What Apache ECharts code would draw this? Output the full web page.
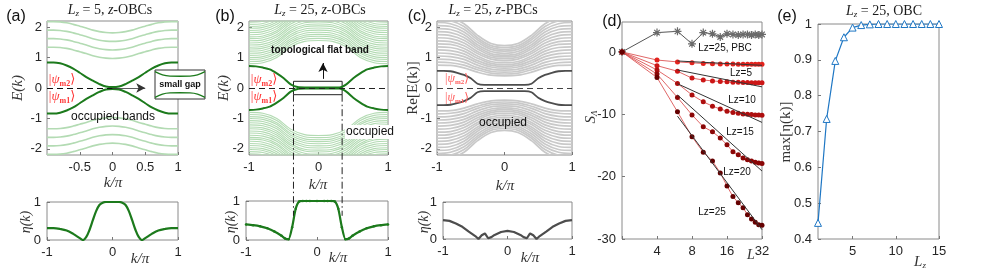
<!DOCTYPE html>
<html><head><meta charset="utf-8">
<script src="https://cdn.jsdelivr.net/npm/echarts@6/dist/echarts.min.js"></script>
<style>html,body{margin:0;padding:0;background:#fff}#c{width:981px;height:273px}</style>
</head><body><div id="c"></div>
<script>
// ---------------- DATA ----------------
const kFull = [-1,-0.9,-0.8,-0.7,-0.6,-0.5,-0.4,-0.3,-0.2,-0.1,0,0.1,0.2,0.3,0.4,0.5,0.6,0.7,0.8,0.9,1];
const kHalf = [0,0.1,0.2,0.3,0.4,0.5,0.6,0.7,0.8,0.9,1];
const kHalf6 = [0,0.2,0.4,0.6,0.8,1];
// (a) Lz=5 OBC
const aEdgeBand = [0.84,0.84,0.81,0.74,0.64,0.5,0.36,0.24,0.13,0.05,0.03,0.05,0.13,0.24,0.36,0.5,0.64,0.74,0.81,0.84,0.84];
const aBulk1 = [0.97,0.98,1.01,1.06,1.13,1.19,1.25,1.30,1.33,1.34,1.34];
const aBulk2 = [1.25,1.26,1.29,1.34,1.41,1.47,1.53,1.58,1.61,1.62,1.62];
const aBulk3 = [1.53,1.54,1.57,1.62,1.69,1.75,1.81,1.86,1.89,1.90,1.90];
const aBulk4 = [1.81,1.82,1.85,1.90,1.97,2.03,2.09,2.14,2.17,2.18,2.18];
// (b) Lz=25 OBC
const bEdgeBand = [0.72,0.71,0.67,0.61,0.48,0.32,0.12,0.03,0.02,0.02,0.02,0.02,0.02,0.02,0.12,0.32,0.48,0.61,0.67,0.71,0.72];
const bBulk = [
 [1.56,1.53,1.35,1.00,0.83,0.80],[1.63,1.60,1.42,1.07,0.90,0.87],[1.70,1.67,1.49,1.14,0.97,0.94],
 [1.76,1.73,1.55,1.20,1.03,1.00],[1.83,1.80,1.62,1.27,1.10,1.07],[1.90,1.87,1.69,1.34,1.17,1.14],
 [1.97,1.94,1.76,1.41,1.24,1.21],[2.04,2.01,1.83,1.48,1.31,1.28],[2.10,2.07,1.89,1.54,1.37,1.34],
 [2.17,2.14,1.96,1.61,1.44,1.41],[2.24,2.21,2.03,1.68,1.51,1.48],[2.31,2.28,2.10,1.75,1.58,1.55],
 [2.38,2.35,2.17,1.82,1.65,1.62],[2.44,2.41,2.23,1.88,1.71,1.68],[2.51,2.48,2.30,1.95,1.78,1.75],
 [2.58,2.55,2.37,2.02,1.85,1.82],[2.65,2.62,2.44,2.09,1.92,1.89],[2.72,2.69,2.51,2.16,1.99,1.96],
 [2.78,2.75,2.57,2.22,2.05,2.02],[2.85,2.82,2.64,2.29,2.12,2.09],[2.92,2.89,2.71,2.36,2.19,2.16]
];
// (c) Lz=25 PBC
const cEdgeBand = [0.56,0.56,0.55,0.5,0.43,0.32,0.14,0.1,0.1,0.1,0.1,0.1,0.1,0.1,0.14,0.32,0.43,0.5,0.55,0.56,0.56];
const cBulk = [
 [0.40,0.42,0.52,0.66,0.74,0.75],[0.46,0.49,0.60,0.75,0.83,0.85],[0.52,0.55,0.67,0.84,0.93,0.95],
 [0.59,0.62,0.75,0.94,1.03,1.05],[0.65,0.69,0.83,1.03,1.13,1.15],[0.71,0.75,0.90,1.12,1.23,1.25],
 [0.77,0.81,0.98,1.21,1.33,1.35],[0.83,0.87,1.05,1.30,1.43,1.45],[0.90,0.95,1.13,1.39,1.52,1.55],
 [0.96,1.01,1.20,1.48,1.62,1.65],[1.02,1.07,1.28,1.57,1.72,1.75],[1.08,1.13,1.35,1.66,1.82,1.85],
 [1.14,1.20,1.42,1.75,1.92,1.95],[1.21,1.27,1.50,1.84,2.02,2.05],[1.27,1.33,1.58,1.93,2.11,2.15],
 [1.33,1.39,1.65,2.02,2.21,2.25],[1.39,1.46,1.73,2.11,2.31,2.35]
];
// eta(k)
const kEta = [-1,-0.9,-0.8,-0.7,-0.6,-0.5,-0.45,-0.4,-0.35,-0.3,-0.25,-0.2,-0.15,-0.1,0,0.1,0.15,0.2,0.25,0.3,0.35,0.4,0.45,0.5,0.6,0.7,0.8,0.9,1];
const etaA = [0.31,0.31,0.29,0.25,0.16,0.05,0.0,0.08,0.27,0.52,0.76,0.92,0.98,1.0,1.0,1.0,0.98,0.92,0.76,0.52,0.27,0.08,0.0,0.05,0.16,0.25,0.29,0.31,0.31];
const etaB = [0.40,0.38,0.35,0.30,0.22,0.11,0.04,0.02,0.33,0.80,0.99,1.0,1.0,1.0,1.0,1.0,1.0,1.0,0.99,0.80,0.33,0.02,0.04,0.11,0.22,0.30,0.35,0.38,0.40];
const etaC = [0.51,0.49,0.42,0.33,0.20,0.08,0.0,0.10,0.15,0.02,0.05,0.11,0.15,0.19,0.22,0.19,0.15,0.11,0.05,0.02,0.15,0.10,0.0,0.08,0.20,0.33,0.42,0.49,0.51];
// inset "small gap"
const insetK = [-1,-0.7,-0.4,0,0.4,0.7,1];
const insetUpper = [0.88,0.66,0.58,0.57,0.58,0.66,0.88];
// (d) entanglement
const Lsizes = [2,4,6,8,10,12,14,16,18,20,22,24,26,28,30,32];
const sPBC25 = [0,3.1,3.3,1.3,3.1,2.9,2.4,2.9,2.8,2.7,2.8,2.8,2.7,2.8,2.7,2.8];
const sOBC5  = [0,-1.3,-1.6,-1.75,-1.85,-1.9,-1.92,-1.94,-1.95,-1.96,-1.97,-1.97,-1.98,-1.98,-1.98,-1.98];
const sOBC10 = [0,-2.2,-3.1,-4.2,-4.5,-4.65,-4.75,-4.8,-4.85,-4.88,-4.9,-4.92,-4.93,-4.94,-4.95,-4.95];
const sOBC15 = [0,-2.9,-5.05,-6.9,-8.0,-8.7,-9.15,-9.5,-9.7,-9.85,-9.95,-10.0,-10.05,-10.1,-10.1,-10.15];
const sOBC20 = [0,-3.55,-7.3,-10.1,-12.0,-12.8,-13.8,-14.9,-16.0,-16.5,-17.0,-17.3,-17.5,-17.7,-17.8,-17.9];
const sOBC25 = [0,-4.1,-9.6,-13.6,-16.1,-17.5,-19.4,-21.5,-23.2,-24.2,-25.0,-26.1,-26.8,-27.3,-27.7,-27.8];
const fitL = [6,32];
const fit5 = [-1.45,-2.15], fit10 = [-2.9,-5.6], fit15 = [-5.1,-11.3], fit20 = [-6.9,-19.1], fit25 = [-10.3,-28.5];
// (e)
const LzList = [1,2,3,4,5,6,7,8,9,10,11,12,13,14,15];
const maxEta = [0.445,0.735,0.897,0.963,0.99,0.997,0.999,1,1,1,1,1,1,1,1];
// tick labels
const ticksKa = [-0.5,0,0.5,1], ticksK = [-1,0,1], ticksE = [-2,-1,0,1,2], ticksEta = [0,1];
const ticksS = [-30,-20,-10,0], ticksLz = [5,10,15], ticksMax = [0.4,0.5,0.6,0.7,0.8,0.9,1];

// ---------------- CHART ----------------
const FONT = "'Liberation Sans', Arial, sans-serif";
const SERIF = "'Liberation Serif', 'DejaVu Serif', serif";
const chart = echarts.init(document.getElementById('c'), null, {renderer:'canvas', width:981, height:273});

const grids = [
 {left:47,top:21,width:131,height:134},
 {left:47,top:202,width:131,height:38},
 {left:249,top:21,width:139,height:134},
 {left:246,top:201,width:142,height:39},
 {left:437,top:21,width:135,height:134},
 {left:443,top:202,width:129,height:37},
 {left:622,top:22,width:140,height:217},
 {left:818,top:24,width:121,height:215},
 {left:155,top:70,width:50,height:29}
].map((g,i)=>Object.assign({show:true, borderColor: i===8?'#333':'#8a8a8a', borderWidth:1, backgroundColor: i===8?'#fff':'transparent'}, g));

const LBL = {color:'#262626', fontSize:13, fontFamily:FONT, margin:6};
function axis(i, min, max, ticks, extra) {
  return Object.assign({type:'value', gridIndex:i, min, max,
    axisLine:{show:false, onZero:false}, splitLine:{show:false},
    axisTick:{show:true, inside:true, length:3, lineStyle:{color:'#777'}, customValues:ticks},
    axisLabel:Object.assign({show:true, customValues:ticks}, LBL)}, extra||{});
}
const xAxes = [
 axis(0,-1,1,ticksKa), axis(1,-1,1,ticksK), axis(2,-1,1,ticksK), axis(3,-1,1,ticksK),
 axis(4,-1,1,ticksK), axis(5,-1,1,ticksK),
 {type:'log', logBase:2, gridIndex:6, min:2, max:32, axisLine:{show:false, onZero:false}, splitLine:{show:false},
  axisTick:{inside:true,length:3,lineStyle:{color:'#777'}},
  axisLabel:Object.assign({}, LBL, {formatter:v=>{const r=Math.round(v);return r===2?'':String(r);}})},
 axis(7,1,15,ticksLz),
 {type:'value', gridIndex:8, min:-1, max:1, show:false}
];
const yAxes = [
 axis(0,-2.2,2.2,ticksE), axis(1,0,1,ticksEta), axis(2,-2.2,2.2,ticksE), axis(3,0,1,ticksEta),
 axis(4,-2.2,2.2,ticksE), axis(5,0,1,ticksEta),
 axis(6,-30,4.8,ticksS), axis(7,0.4,1,ticksMax),
 {type:'value', gridIndex:8, min:-1, max:1, show:false}
];
[0,2,4].forEach(i => { yAxes[i].axisLabel.margin = 5; });

function mirror(ks, vs, sign) {
  const out = [];
  for (let i = ks.length-1; i > 0; i--) out.push([-ks[i], sign*vs[i]]);
  for (let i = 0; i < ks.length; i++) out.push([ks[i], sign*vs[i]]);
  return out;
}
function pairs(ks, vs, sign) { return ks.map((k,i)=>[k, (sign||1)*vs[i]]); }
function line(g, data, color, width, extra) {
  return Object.assign({type:'line', xAxisIndex:g, yAxisIndex:g, data, showSymbol:false, symbol:'none',
    label:{show:false}, emphasis:{disabled:true},
    smooth:0.35, silent:true, lineStyle:{color, width}, itemStyle:{color}, z:2}, extra||{});
}
const series = [];
const LG = '#b3dbb3', DG = '#1c7a1c', LGR = '#c9c9c9', DGR = '#4d4d4d';
// (a)
[aBulk1,aBulk2,aBulk3,aBulk4].forEach(b => { series.push(line(0, mirror(kHalf,b,1), LG, 1.6)); series.push(line(0, mirror(kHalf,b,-1), LG, 1.6)); });
series.push(line(0, pairs(kFull,aEdgeBand,1), DG, 2));
series.push(line(0, pairs(kFull,aEdgeBand,-1), DG, 2, {
  markLine:{silent:true, symbol:['none','none'], label:{show:false}, animation:false, data:[
    [{coord:[-1,0], lineStyle:{type:[6,4], color:'#111', width:1.1}}, {coord:[0,0]}],
    [{coord:[0,0], lineStyle:{type:'solid', color:'#333', width:0.8}}, {coord:[0.5,0], symbol:'arrow', symbolSize:[7,9]}]
  ]}}));
series.push(line(1, pairs(kEta,etaA), DG, 2.2));
// (b)
bBulk.forEach(b => { series.push(line(2, mirror(kHalf6,b,1), LG, 1.1)); series.push(line(2, mirror(kHalf6,b,-1), LG, 1.1)); });
series.push(line(2, pairs(kFull,bEdgeBand,1), DG, 2, {smooth:0.25}));
series.push(line(2, pairs(kFull,bEdgeBand,-1), DG, 2, {smooth:0.25,
  markLine:{silent:true, symbol:['none','none'], label:{show:false}, animation:false, data:[
    [{coord:[-1,0], lineStyle:{type:[6,4], color:'#222', width:1.1}}, {coord:[1,0]}],
    [{coord:[0.065,0.3], lineStyle:{type:'solid', color:'#111', width:1}}, {coord:[0.065,0.82], symbol:'arrow', symbolSize:[7,9]}]
  ]},
  markArea:{silent:true, label:{show:false}, itemStyle:{color:'rgba(0,0,0,0)', borderColor:'#222', borderWidth:1}, data:[[{coord:[-0.36,0.22]},{coord:[0.34,-0.22]}]]}
}));
series.push(line(3, pairs(kEta,etaB), DG, 2.2, {smooth:0.2, showSymbol:true, symbol:'circle', symbolSize:2.5}));
// (c)
cBulk.forEach(b => { series.push(line(4, mirror(kHalf6,b,1), LGR, 1.7)); series.push(line(4, mirror(kHalf6,b,-1), LGR, 1.7)); });
series.push(line(4, pairs(kFull,cEdgeBand,1), DGR, 1.8, {smooth:0.25}));
series.push(line(4, pairs(kFull,cEdgeBand,-1), DGR, 1.8, {smooth:0.25,
  markLine:{silent:true, symbol:['none','none'], label:{show:false}, animation:false, data:[
    [{coord:[-1,0], lineStyle:{type:[6,4], color:'#444', width:1.1}}, {coord:[1,0]}]]}}));
series.push(line(5, pairs(kEta,etaC), DGR, 2.2, {smooth:0}));
// inset
series.push(line(8, pairs(insetK,insetUpper,1), DG, 1.4, {z:5}));
series.push(line(8, pairs(insetK,insetUpper,-1), DG, 1.4, {z:5}));
// (d)
const star = 'path://M0,-1L0,1M-1,0L1,0M-0.7,-0.7L0.7,0.7M-0.7,0.7L0.7,-0.7';
series.push({type:'line', xAxisIndex:6, yAxisIndex:6, data:pairs(Lsizes,sPBC25), symbol:star, symbolSize:8, showSymbol:true,
  lineStyle:{color:'#555', width:1}, itemStyle:{color:'none', borderColor:'#6a6a6a', borderWidth:1.2}, silent:true});
const redCols = ['#e3231d','#cc1616','#ad0e0e','#8a0606','#640000'];
[sOBC5,sOBC10,sOBC15,sOBC20,sOBC25].forEach((s,i) => {
  series.push({type:'line', xAxisIndex:6, yAxisIndex:6, data:pairs(Lsizes,s), symbol:'circle', symbolSize:5, showSymbol:true,
    lineStyle:{color:'#d84040', width:0.8}, itemStyle:{color:redCols[i]}, silent:true, z:3});
});
[fit5,fit10,fit15,fit20,fit25].forEach(f => {
  series.push({type:'line', xAxisIndex:6, yAxisIndex:6, data:pairs(fitL,f), symbol:'none', lineStyle:{color:'#333', width:1}, silent:true, z:4});
});
// (e)
series.push({type:'line', xAxisIndex:7, yAxisIndex:7, data:pairs(LzList,maxEta), symbol:'triangle', symbolSize:7, showSymbol:true,
  lineStyle:{color:'#1f77c4', width:1.2}, itemStyle:{color:'#fff', borderColor:'#1f77c4', borderWidth:1}, silent:true});

// ---------------- TEXT ----------------
function T(x,y,text,font,fill,extra){ return Object.assign({type:'text', x, y, silent:true, z:10, style:{text, font, fill:fill||'#1a1a1a', align:'center', verticalAlign:'middle'}}, extra||{}); }
function RT(x,y,text,rich,extra){ return Object.assign({type:'text', x, y, silent:true, z:10, style:{text, rich, fill:'#1a1a1a', align:'center', verticalAlign:'middle'}}, extra||{}); }
const richT = {i:{font:'italic 14px '+SERIF}, s:{font:'italic 9px '+SERIF, padding:[8,0,0,0]}, r:{font:'14px '+SERIF}};
const richPsi = {r:{font:'italic 13px '+SERIF, fill:'#ff3535'}, s:{font:'bold 8px '+SERIF, fill:'#ff3535', padding:[7,0,0,0]}, b:{font:'13px '+SERIF, fill:'#ff3535'}};
const richPsiC = {r:{font:'italic 12px '+SERIF, fill:'#ff5c5c'}, s:{font:'bold 7px '+SERIF, fill:'#ff5c5c', padding:[6,0,0,0]}, b:{font:'12px '+SERIF, fill:'#ff5c5c'}};
const graphics = [
  T(16,17,'(a)','16px '+FONT,'#111'), T(225,17,'(b)','16px '+FONT,'#111'), T(417,17,'(c)','16px '+FONT,'#111'),
  T(612,22,'(d)','16px '+FONT,'#111'), T(787,17,'(e)','16px '+FONT,'#111'),
  RT(110,10,'{i|L}{s|z}{r| = 5, }{i|z}{r|-OBCs}',richT), RT(320,10,'{i|L}{s|z}{r| = 25, }{i|z}{r|-OBCs}',richT),
  RT(493,10,'{i|L}{s|z}{r| = 25, }{i|z}{r|-PBCs}',richT), RT(884,11,'{i|L}{s|z}{r| = 25, OBC}',richT),
  T(18,88,'E(k)','italic 15px '+SERIF,'#333',{rotation:Math.PI/2}),
  T(224,88,'E(k)','italic 15px '+SERIF,'#333',{rotation:Math.PI/2}),
  T(413,88,'Re[E(k)]','15px '+SERIF,'#333',{rotation:Math.PI/2}),
  T(113,183,'k/π','italic 15px '+SERIF,'#333'), T(318,185,'k/π','italic 15px '+SERIF,'#333'), T(505,186,'k/π','italic 15px '+SERIF,'#333'),
  T(140,259,'k/π','italic 15px '+SERIF,'#333'), T(338,258,'k/π','italic 15px '+SERIF,'#333'), T(530,258,'k/π','italic 15px '+SERIF,'#333'),
  T(26,222,'η(k)','italic 14px '+SERIF,'#333',{rotation:Math.PI/2}), T(231,222,'η(k)','italic 14px '+SERIF,'#333',{rotation:Math.PI/2}),
  T(424,222,'η(k)','italic 14px '+SERIF,'#333',{rotation:Math.PI/2}),
  RT(591,117,'{i|S}{s|Λ}',{i:{font:'italic 15px '+SERIF,fill:'#333'},s:{font:'italic 9px '+SERIF,fill:'#333',padding:[7,0,0,0]}},{rotation:Math.PI/2}),
  T(751,255,'L','italic 14px '+SERIF,'#333'),
  T(786,132,'max[η(k)]','15px '+SERIF,'#333',{rotation:Math.PI/2}),
  RT(920,262,'{i|L}{s|z}',{i:{font:'italic 15px '+SERIF,fill:'#333'},s:{font:'italic 9px '+SERIF,fill:'#333',padding:[8,0,0,0]}}),
  RT(62,80,'{b||}{r|ψ}{s|m2}{b|⟩}',richPsi), RT(62,97,'{b||}{r|ψ}{s|m1}{b|⟩}',richPsi),
  RT(264,80,'{b||}{r|ψ}{s|m2}{b|⟩}',richPsi), RT(264,97,'{b||}{r|ψ}{s|m1}{b|⟩}',richPsi),
  RT(457,79,'{b||}{r|ψ}{s|m2}{b|⟩}',richPsiC), RT(457,98,'{b||}{r|ψ}{s|m1}{b|⟩}',richPsiC),
  T(113,117,'occupied bands','12px '+FONT,'#111'),
  T(180,85,'small gap','bold 9px '+FONT,'#111'),
  T(320,50,'topological flat band','bold 10px '+FONT,'#111'),
  {type:'text', x:345, y:132, silent:true, z:10, style:{text:'occupied', font:'12px '+FONT, fill:'#111', align:'left', verticalAlign:'middle', backgroundColor:'#fff', padding:[1,1,1,1]}},
  T(503,123,'occupied','12px '+FONT,'#111'),
  T(725,48,'Lz=25, PBC','10px '+FONT,'#111'), T(741,73,'Lz=5','10px '+FONT,'#111'), T(742,100,'Lz=10','10px '+FONT,'#111'),
  T(740,132,'Lz=15','10px '+FONT,'#111'), T(737,172,'Lz=20','10px '+FONT,'#111'), T(712,212,'Lz=25','10px '+FONT,'#111')
];

chart.setOption({animation:false, grid:grids, xAxis:xAxes, yAxis:yAxes, series, graphic:graphics});

// dash-dot guide lines linking the flat-band window of (b) to its eta(k) panel
const guideK = [-0.36, 0.34];
const guideTopE = -0.22, guideBottomEta = 0.62;
const extra = guideK.map((k,i) => {
  const p1 = chart.convertToPixel({gridIndex:2}, [k, guideTopE]);
  const p2 = chart.convertToPixel({gridIndex:3}, [k, guideBottomEta]);
  return {type:'line', id:'guide'+i, silent:true, z:9, shape:{x1:p1[0], y1:p1[1], x2:p1[0], y2:p2[1]},
    style:{stroke:'#222', lineWidth:1, lineDash:[7,3,1.5,3]}};
});
chart.setOption({graphic: graphics.concat(extra)});
</script></body></html>
